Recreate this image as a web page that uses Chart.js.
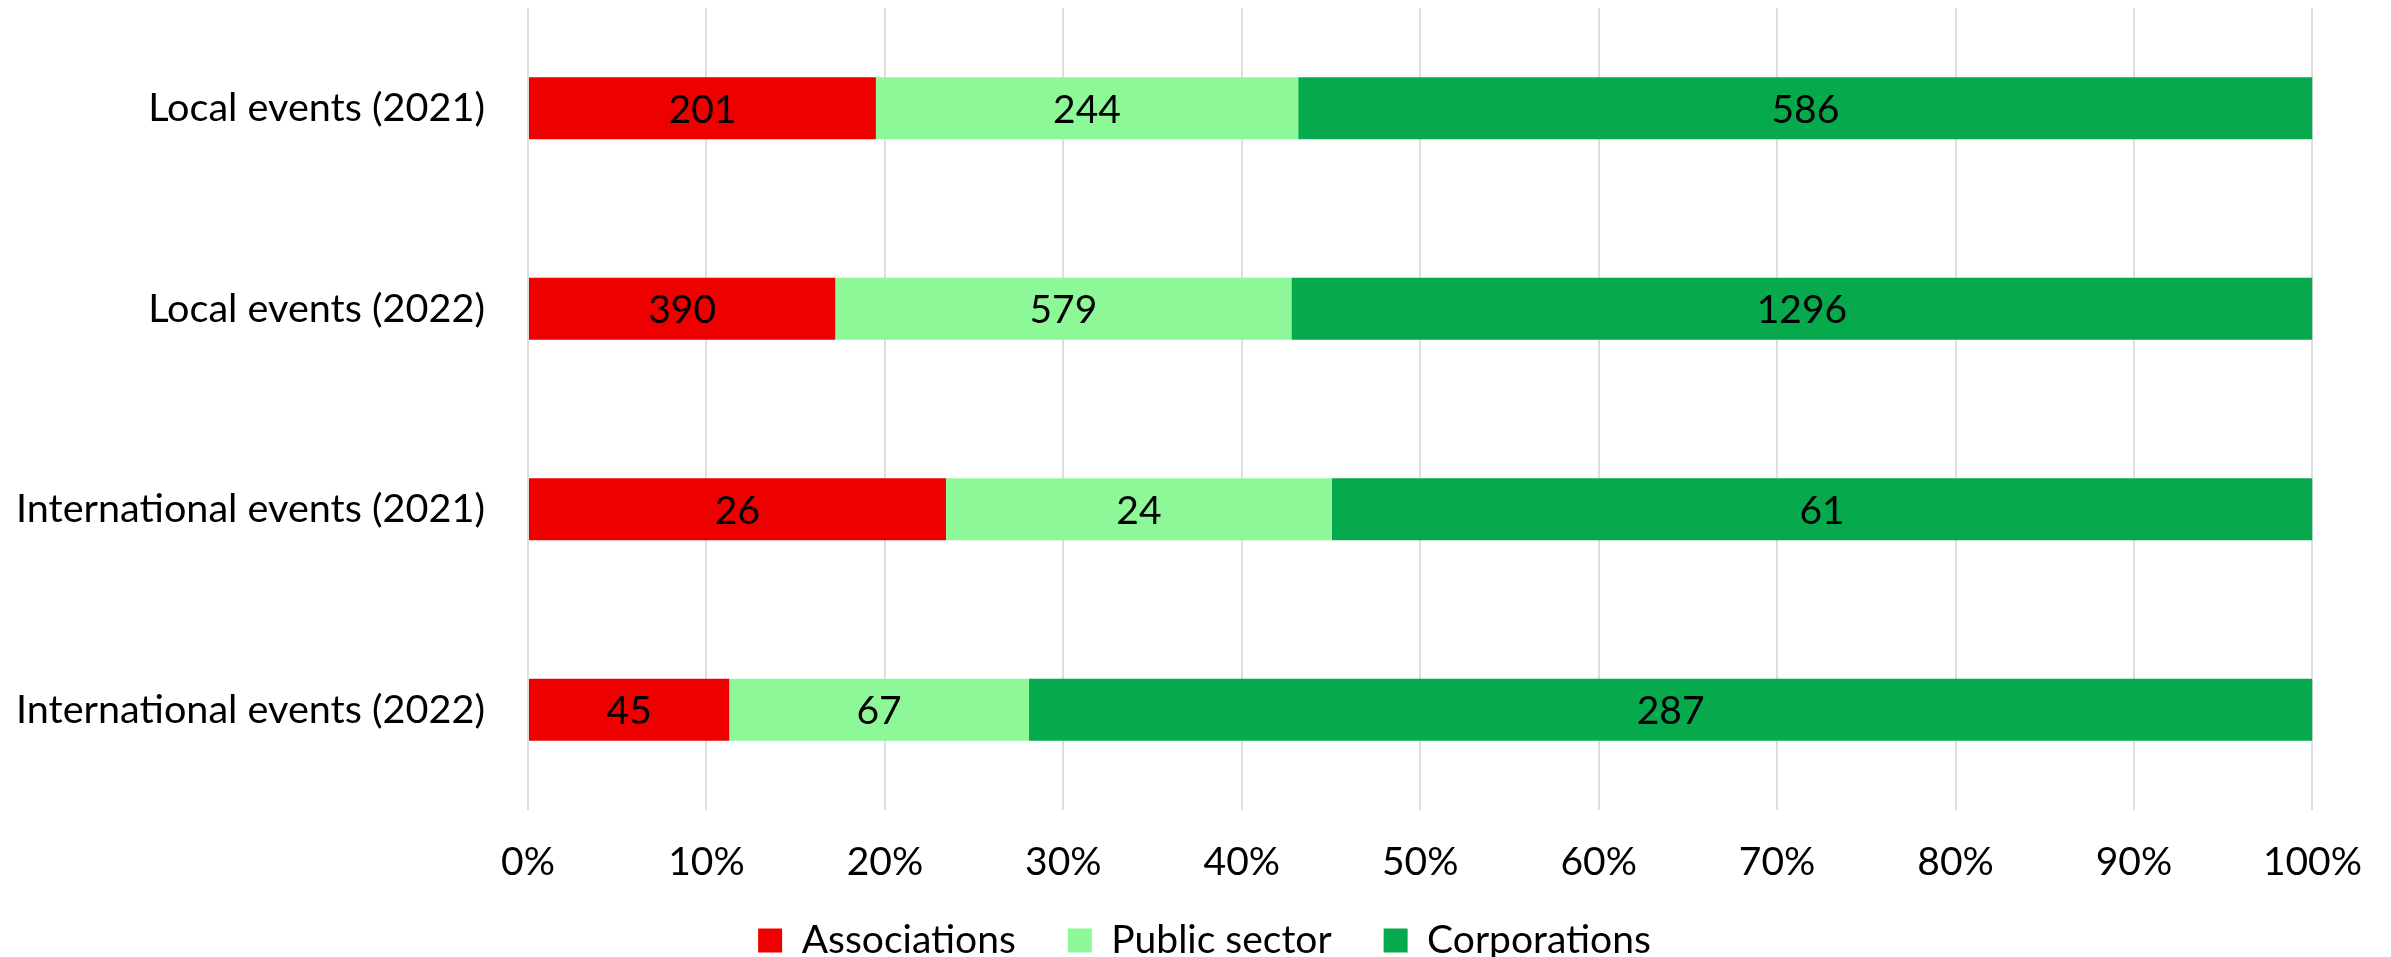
<!DOCTYPE html>
<html>
<head>
<meta charset="utf-8">
<title>Events by organiser type</title>
<script src="https://cdn.jsdelivr.net/npm/chart.js@4/dist/chart.umd.min.js"></script>
<style>
    html, body { margin: 0; padding: 0; background: #ffffff; }
    #wrap { width: 2391px; height: 957px; position: relative; }
</style>
</head>
<body>
<div id="wrap"><canvas id="chart"></canvas></div>
<script>
// Values
const categories = [
    'Local events (2021)',
    'Local events (2022)',
    'International events (2021)',
    'International events (2022)'
];
const associations = [201, 390, 26, 45];
const publicSector = [244, 579, 24, 67];
const corporations = [586, 1296, 61, 287];
const tickValues = [0, 10, 20, 30, 40, 50, 60, 70, 80, 90, 100];

const FONT = 'Lato, "Open Sans", sans-serif';
const SIZE = 39;

// Turn raw counts into shares of each row (100% stacked bars)
function toPercent(series) {
    return series.map((v, i) => {
        const total = associations[i] + publicSector[i] + corporations[i];
        return v / total * 100;
    });
}

// Draws the raw count in the middle of each bar segment
const countLabels = {
    id: 'countLabels',
    afterDatasetsDraw(chart) {
        const ctx = chart.ctx;
        ctx.save();
        ctx.font = SIZE + 'px ' + FONT;
        ctx.fillStyle = '#000000';
        ctx.textAlign = 'center';
        ctx.textBaseline = 'middle';
        chart.data.datasets.forEach((ds, di) => {
            const meta = chart.getDatasetMeta(di);
            meta.data.forEach((bar, i) => {
                const p = bar.getCenterPoint();
                ctx.fillText(String(ds.raw[i]), p.x, p.y + 2);
            });
        });
        ctx.restore();
    }
};

// Legend sits centred on the whole canvas in the original, a bit higher than
// Chart.js would put it below the tick labels
const legendNudge = {
    id: 'legendNudge',
    afterLayout(chart) {
        const lg = chart.legend;
        if (!lg) return;
        lg.left += 48;
        lg.right += 48;
        lg.top -= 21;
        lg.bottom -= 21;
    }
};

function initChart() {
    const ctx = document.getElementById('chart').getContext('2d');
    new Chart(ctx, {
        type: 'bar',
        data: {
            labels: categories,
            datasets: [{
                label: 'Associations',
                data: toPercent(associations),
                raw: associations,
                backgroundColor: '#EE0000'
            }, {
                label: 'Public sector',
                data: toPercent(publicSector),
                raw: publicSector,
                backgroundColor: '#8CF898'
            }, {
                label: 'Corporations',
                data: toPercent(corporations),
                raw: corporations,
                backgroundColor: '#06A94C'
            }]
        },
        options: {
            indexAxis: 'y',
            responsive: true,
            maintainAspectRatio: false,
            animation: false,
            categoryPercentage: 1,
            barPercentage: 0.31,
            layout: { padding: { top: 8, right: 78, left: 0, bottom: -34 } },
            plugins: {
                tooltip: { enabled: false },
                legend: {
                    position: 'bottom',
                    labels: {
                        font: { family: FONT, size: SIZE },
                        color: '#000000',
                        boxWidth: 24,
                        boxHeight: 24,
                        padding: 52
                    }
                }
            },
            scales: {
                x: {
                    stacked: true,
                    min: 0,
                    max: 100,
                    afterBuildTicks(scale) {
                        scale.ticks = tickValues.map(v => ({ value: v }));
                    },
                    afterFit(scale) { scale.height = 80; },
                    grid: { color: '#DEDEDE', lineWidth: 2, drawTicks: false },
                    border: { display: false },
                    ticks: {
                        padding: 29,
                        color: '#000000',
                        font: { family: FONT, size: SIZE },
                        callback: v => v + '%'
                    }
                },
                y: {
                    stacked: true,
                    afterFit(scale) {
                        scale.width = 528;
                        scale.paddingTop = 0;
                        scale.paddingBottom = 0;
                    },
                    grid: { display: false, drawTicks: false },
                    border: { display: false },
                    ticks: {
                        padding: 43,
                        color: '#000000',
                        font: { family: FONT, size: 39.6 }
                    }
                }
            }
        },
        plugins: [countLabels, legendNudge]
    });
}

document.addEventListener('DOMContentLoaded', initChart);
</script>
</body>
</html>
